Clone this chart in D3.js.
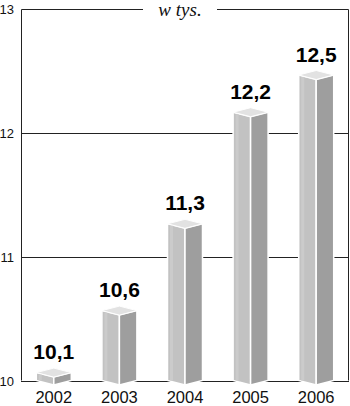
<!DOCTYPE html>
<html>
  <head>
    <meta charset="utf-8" />
    <script src="https://d3js.org/d3.v7.min.js"></script>
    <style>
        body { margin: 0; background: #fff; }
        .tick-label { font-family: "Liberation Sans", Arial, sans-serif; font-size: 13px; fill: #111; }
        .year { font-family: "Liberation Sans", Arial, sans-serif; font-size: 16.5px; fill: #111; }
        .value { font-family: "Liberation Sans", Arial, sans-serif; font-size: 21px; font-weight: bold; fill: #000; }
        .unit { font-family: "Liberation Serif", "DejaVu Serif", serif; font-size: 19px; font-style: italic; fill: #111; }
    </style>
  </head>
  <body>

    <svg id="chart" width="350" height="406"></svg>

        <script>

            var years = ["2002", "2003", "2004", "2005", "2006"];
            var values = [10.1, 10.6, 11.3, 12.2, 12.5];
            var valueLabels = ["10,1", "10,6", "11,3", "12,2", "12,5"];
            var yTicks = [10, 11, 12, 13];
            var unitLabel = "w tys.";

            var svg = d3.select("#chart");

            var plotLeft = 21, plotRight = 349, plotTop = 8.5, plotBottom = 380.5;

            var x = d3.scaleBand()
                .domain(years)
                .range([plotLeft, plotRight]);

            var y = d3.scaleLinear()
                .domain([10, 13])
                .range([plotBottom, plotTop]);

            // gridlines
            svg.selectAll(".grid")
                .data(yTicks.filter(function(d){ return d < 13; }))
                .enter().append("line")
                .attr("x1", plotLeft)
                .attr("x2", plotRight)
                .attr("y1", function(d){ return Math.round(y(d)) + 0.5; })
                .attr("y2", function(d){ return Math.round(y(d)) + 0.5; })
                .attr("stroke", "#222")
                .attr("stroke-width", 1);

            // frame, with a gap for the unit label
            var topY = Math.round(y(13)) + 0.5;
            svg.append("path")
                .attr("d", "M143," + topY + "H" + (plotLeft + 0.5) + "V" + plotBottom)
                .attr("fill", "none").attr("stroke", "#222");
            svg.append("path")
                .attr("d", "M217," + topY + "H" + (plotRight - 0.5) + "V" + plotBottom)
                .attr("fill", "none").attr("stroke", "#222");

            svg.append("text")
                .attr("class", "unit")
                .attr("x", 180)
                .attr("y", 16)
                .attr("text-anchor", "middle")
                .text(unitLabel);

            // y tick labels
            svg.selectAll(".tick-label")
                .data(yTicks)
                .enter().append("text")
                .attr("class", "tick-label")
                .attr("x", 14)
                .attr("y", function(d){ return y(d) + 5; })
                .attr("text-anchor", "end")
                .text(function(d){ return d; });

            // bars as boxes
            var barW = 35, depth = 4.5;
            var bars = svg.selectAll(".bar")
                .data(values)
                .enter().append("g")
                .attr("class", "bar");

            function geom(d, i) {
                var cx = x(years[i]) + x.bandwidth() / 2;
                return {
                    x0: cx - barW / 2,
                    xm: cx,
                    x1: cx + barW / 2,
                    yt: y(d) + depth,
                    yb: y(10)
                };
            }

            // left (front) face
            bars.append("path")
                .attr("d", function(d, i){
                    var g = geom(d, i);
                    return "M" + g.x0 + "," + g.yt + "L" + g.xm + "," + (g.yt + depth) +
                        "L" + g.xm + "," + (g.yb + depth) + "L" + g.x0 + "," + g.yb + "Z";
                })
                .attr("fill", "#c2c2c2")
                .attr("stroke", "#fff").attr("stroke-width", 1.5);

            // right face
            bars.append("path")
                .attr("d", function(d, i){
                    var g = geom(d, i);
                    return "M" + g.xm + "," + (g.yt + depth) + "L" + g.x1 + "," + g.yt +
                        "L" + g.x1 + "," + g.yb + "L" + g.xm + "," + (g.yb + depth) + "Z";
                })
                .attr("fill", "#9e9e9e")
                .attr("stroke", "#fff").attr("stroke-width", 1.5);

            // top
            bars.append("path")
                .attr("d", function(d, i){
                    var g = geom(d, i);
                    return "M" + g.x0 + "," + g.yt + "L" + g.xm + "," + (g.yt - depth) +
                        "L" + g.x1 + "," + g.yt + "L" + g.xm + "," + (g.yt + depth) + "Z";
                })
                .attr("fill", "#e2e2e2")
                .attr("stroke", "#fff").attr("stroke-width", 1);

            // highlight stripe on faces
            bars.append("line")
                .attr("x1", function(d, i){ return geom(d, i).x0 + 4; })
                .attr("x2", function(d, i){ return geom(d, i).x0 + 4; })
                .attr("y1", function(d, i){ var g = geom(d, i); return g.yt + 2; })
                .attr("y2", function(d, i){ var g = geom(d, i); return g.yb; })
                .attr("stroke", "#cbcbcb").attr("stroke-width", 3);

            bars.append("text")
                .attr("class", "value")
                .attr("x", function(d, i){ return geom(d, i).xm; })
                .attr("y", function(d){ return y(d) - 9; })
                .attr("text-anchor", "middle")
                .text(function(d, i){ return valueLabels[i]; });

            // year labels
            svg.selectAll(".year")
                .data(years)
                .enter().append("text")
                .attr("class", "year")
                .attr("x", function(d){ return x(d) + x.bandwidth() / 2; })
                .attr("y", 403)
                .attr("text-anchor", "middle")
                .text(function(d){ return d; });

        </script>
  </body>
</html>
